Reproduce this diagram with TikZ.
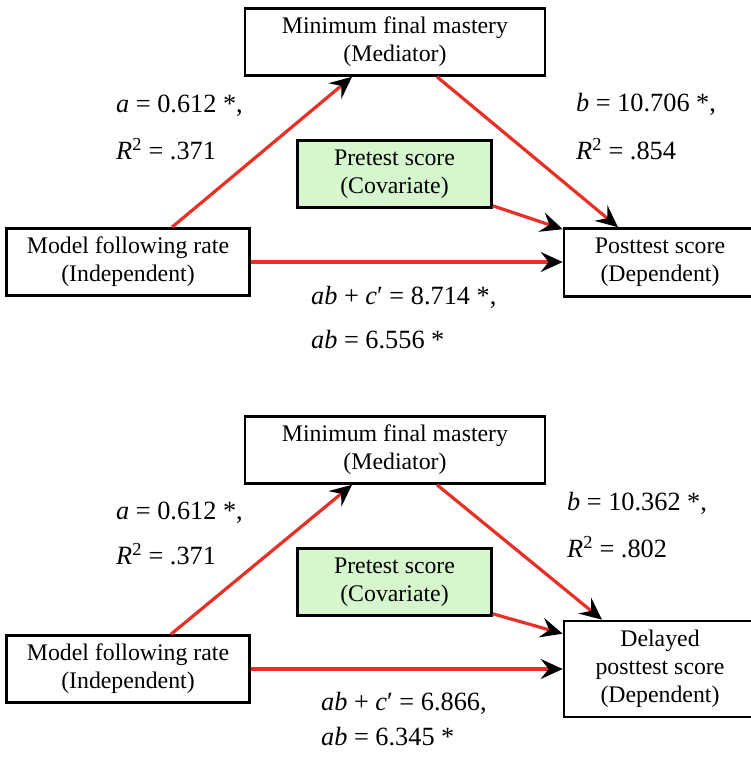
\documentclass[tikz,border=0pt]{standalone}
\usepackage{fontspec}
\setmainfont{Liberation Serif}
\usetikzlibrary{arrows.meta,calc}
\definecolor{linered}{RGB}{232,48,38}
\definecolor{covgreen}{RGB}{214,247,206}
\begin{document}
\begin{tikzpicture}[x=1pt,y=-1pt,
  box/.style={draw=black,line width=2.6pt,fill=white,align=center,inner sep=0pt,
    font=\fontsize{23.8}{28}\selectfont},
  covbox/.style={box,fill=covgreen},
  lab/.style={anchor=mid west,inner sep=0pt,font=\fontsize{26.3}{30}\selectfont},
  conn/.style={draw=linered,line width=3.2pt,
    -{Stealth[black,length=22pt,width=20pt,inset=8pt]}},
]
\useasboundingbox (0,0) rectangle (751,761);
\clip (0,0) rectangle (751,761);

% ---------- top panel ----------
\node[box,minimum width=300pt,minimum height=67pt] (med) at (395,42)
  {Minimum final mastery\\(Mediator)};
\node[covbox,minimum width=194pt,minimum height=67pt] (pre) at (394.5,174)
  {Pretest score\\(Covariate)};
\node[box,minimum width=243pt,minimum height=67pt] (ind) at (128,262)
  {Model following rate\\(Independent)};
\node[box,minimum width=192pt,minimum height=68pt] (dep) at (660,262.5)
  {Posttest score\\(Dependent)};

\draw[conn] ([xshift=44pt]ind.north) -- ([xshift=-43pt]med.south);
\draw[conn] ([xshift=42pt]med.south) -- ([xshift=-42pt]dep.north);
\draw[conn] ([yshift=3pt]pre.south east) -- ([yshift=-2pt]dep.north west);
\draw[conn] (ind.east) -- (ind.east -| dep.west);

\node[lab] (la1) at (116,110) {\textit{a} = 0.612 *,};
\node[lab] (lr1) at (116,157) {\textit{R}\textsuperscript{2} = .371};
\node[lab] (lb1) at (576,109) {\textit{b} = 10.706 *,};
\node[lab] (lrb1) at (576,157) {\textit{R}\textsuperscript{2} = .854};
\node[lab] (lc1) at (311,302) {\textit{ab} + \textit{c}′ = 8.714 *,};
\node[lab] (lab1) at (311,346) {\textit{ab} = 6.556 *};

% ---------- bottom panel ----------
\node[box,minimum width=300pt,minimum height=67pt] (med2) at (395,450)
  {Minimum final mastery\\(Mediator)};
\node[covbox,minimum width=194pt,minimum height=67pt] (pre2) at (394.5,582)
  {Pretest score\\(Covariate)};
\node[box,minimum width=243pt,minimum height=67pt] (ind2) at (128,669)
  {Model following rate\\(Independent)};
\node[box,minimum width=192pt,minimum height=96pt] (dep2) at (660,669)
  {Delayed\\posttest score\\(Dependent)};

\draw[conn] ([xshift=43pt]ind2.north) -- ([xshift=-43pt]med2.south);
\draw[conn] ([xshift=42pt]med2.south) -- ([xshift=-58pt]dep2.north);
\draw[conn] ([yshift=3pt]pre2.south east) -- ([yshift=-14pt]dep2.north west);
\draw[conn] (ind2.east) -- (ind2.east -| dep2.west);

\node[lab] (la2) at (116,517) {\textit{a} = 0.612 *,};
\node[lab] (lr2) at (116,562) {\textit{R}\textsuperscript{2} = .371};
\node[lab] (lb2) at (567,508) {\textit{b} = 10.362 *,};
\node[lab] (lrb2) at (567,555) {\textit{R}\textsuperscript{2} = .802};
\node[lab] (lc2) at (321,708) {\textit{ab} + \textit{c}′ = 6.866,};
\node[lab] (lab2) at (321,743) {\textit{ab} = 6.345 *};
\end{tikzpicture}
\end{document}
